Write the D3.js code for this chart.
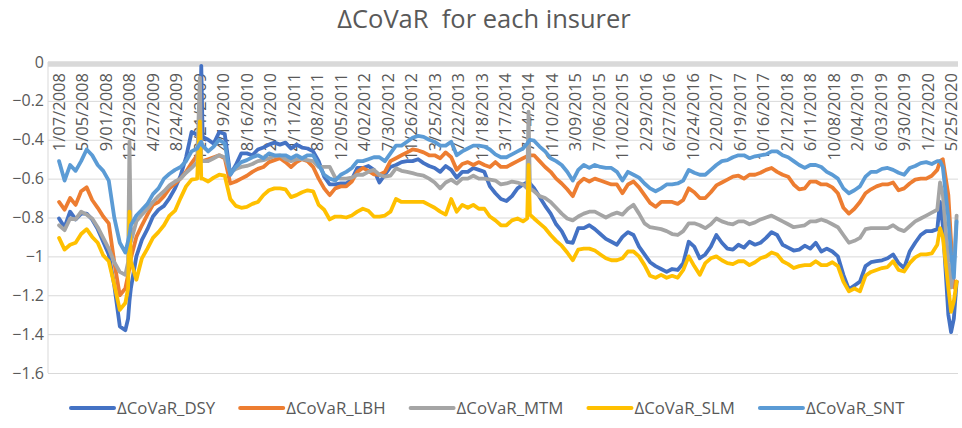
<!DOCTYPE html>
<html>
<head>
<meta charset="utf-8">
<script src="https://cdn.jsdelivr.net/npm/d3@7"></script>
<style>
  body { margin: 0; background: #fff; }
  text { font-family: "Open Sans", sans-serif; fill: #595959; }
</style>
</head>
<body>
<div id="chart"></div>
<script>
// week index counted from 1/07/2008 (weekly observations, sampled)
var weeks = [
    0, 4, 8, 12, 16, 20, 24, 28, 32, 36, 40, 44, 48,
    50, 51, 52,
    56, 60, 64, 68, 72, 76, 80, 84, 88, 92, 96, 100,
    102, 103, 104,
    108, 112, 116, 120, 124, 128, 132, 136, 140, 144, 148, 152, 156, 160,
    164, 168, 172, 176, 180, 184, 188, 192, 196, 200, 204, 208, 212, 216, 220, 224, 228, 232, 236, 240,
    244, 248, 252, 256, 260, 264, 268, 272, 276, 280, 284, 288, 292, 296, 300, 304, 308, 312,
    316, 320, 324, 328, 332, 336,
    339, 340, 341,
    344, 348, 352, 356, 360, 364, 368, 372, 376, 380, 384, 388, 392, 396, 400,
    404, 408, 412, 416, 420, 424, 428, 432, 436, 440, 444, 448, 452, 456, 460, 464, 468, 472, 476,
    480, 484, 488, 492, 496, 500, 504, 508, 512, 516, 520, 524, 528, 532, 536, 540, 544, 548, 552,
    556, 560, 564, 568, 572, 576, 580, 584, 588, 592, 596, 600, 604, 608, 612, 616, 620, 624, 628, 632, 636,
    638, 640, 644, 646, 648, 650
];

var tickLabels = ["1/07/2008", "5/05/2008", "9/01/2008", "12/29/2008", "4/27/2009", "8/24/2009",
    "12/21/2009", "4/19/2010", "8/16/2010", "12/13/2010", "4/11/2011", "8/08/2011", "12/05/2011",
    "4/02/2012", "7/30/2012", "11/26/2012", "3/25/2013", "7/22/2013", "11/18/2013", "3/17/2014",
    "7/14/2014", "11/10/2014", "3/09/2015", "7/06/2015", "11/02/2015", "2/29/2016", "6/27/2016",
    "10/24/2016", "2/20/2017", "6/19/2017", "10/16/2017", "2/12/2018", "6/11/2018", "10/08/2018",
    "2/04/2019", "6/03/2019", "9/30/2019", "1/27/2020", "5/25/2020"];
var tickStep = 17; // one label every 17 weeks

var yTicks = [0, -0.2, -0.4, -0.6, -0.8, -1, -1.2, -1.4, -1.6];

var dsy = [
    -0.805, -0.85, -0.77, -0.81, -0.78, -0.78, -0.81, -0.86, -0.925, -0.99, -1.15, -1.36, -1.38,
    -1.32, -1.23, -1.165,
    -1.0, -0.915, -0.86, -0.795, -0.76, -0.74, -0.7, -0.65, -0.585, -0.49, -0.36, -0.375,
    -0.385, -0.02, -0.385,
    -0.4, -0.42, -0.36, -0.37, -0.58, -0.53, -0.47, -0.47, -0.48, -0.45, -0.44, -0.425, -0.415, -0.425,
    -0.415, -0.445, -0.425, -0.44, -0.445, -0.46, -0.51, -0.59, -0.63, -0.63, -0.625, -0.625, -0.605, -0.545, -0.545, -0.535, -0.555, -0.62, -0.58, -0.54,
    -0.53, -0.515, -0.51, -0.51, -0.5, -0.52, -0.535, -0.545, -0.565, -0.535, -0.555, -0.595, -0.565, -0.565, -0.545, -0.555, -0.565, -0.64,
    -0.675, -0.705, -0.715, -0.69, -0.65, -0.63,
    -0.62, -0.615, -0.625,
    -0.65, -0.695, -0.74, -0.78, -0.835, -0.87, -0.925, -0.93, -0.855, -0.855, -0.84, -0.86, -0.885, -0.91, -0.925,
    -0.94, -0.9, -0.875, -0.89, -0.95, -0.99, -1.03, -1.05, -1.065, -1.08, -1.065, -1.07, -1.035, -0.925, -0.95, -1.01, -0.99, -0.95, -0.89,
    -0.93, -0.96, -0.965, -0.94, -0.955, -0.925, -0.94, -0.93, -0.905, -0.875, -0.89, -0.94, -0.955, -0.97, -0.965, -0.945, -0.96, -0.93, -0.975,
    -0.96, -0.975, -1.0, -1.095, -1.17, -1.15, -1.13, -1.05, -1.03, -1.025, -1.02, -1.01, -0.99, -1.035, -1.06, -0.975, -0.93, -0.89, -0.87, -0.87, -0.86,
    -0.72, -0.84, -1.3, -1.39, -1.32, -1.13
];

var lbh = [
    -0.72, -0.76, -0.70, -0.735, -0.665, -0.645, -0.71, -0.75, -0.795, -0.83, -1.03, -1.2, -1.165,
    -1.095, -1.06, -1.01,
    -0.9, -0.84, -0.785, -0.735, -0.72, -0.69, -0.65, -0.625, -0.6, -0.565, -0.52, -0.48,
    -0.495, -0.505, -0.51,
    -0.5, -0.49, -0.48, -0.495, -0.625, -0.615, -0.6, -0.585, -0.565, -0.55, -0.54, -0.515, -0.505, -0.495,
    -0.515, -0.54, -0.515, -0.5, -0.51, -0.54, -0.6, -0.65, -0.685, -0.65, -0.64, -0.64, -0.615, -0.565, -0.545, -0.56, -0.578, -0.58, -0.565, -0.51,
    -0.495, -0.48, -0.465, -0.45, -0.455, -0.465, -0.48, -0.48, -0.495, -0.465, -0.49, -0.555, -0.525, -0.515, -0.53, -0.515, -0.53, -0.54,
    -0.515, -0.54, -0.54, -0.525, -0.51, -0.495,
    -0.485, -0.48, -0.48,
    -0.48, -0.51, -0.54, -0.565, -0.6, -0.625, -0.655, -0.69, -0.625, -0.6, -0.615, -0.6, -0.61, -0.62, -0.63,
    -0.63, -0.675, -0.63, -0.615, -0.645, -0.685, -0.725, -0.745, -0.72, -0.72, -0.72, -0.73, -0.71, -0.65, -0.67, -0.7, -0.7, -0.67, -0.635,
    -0.62, -0.605, -0.59, -0.585, -0.6, -0.58, -0.58, -0.57, -0.555, -0.545, -0.565, -0.58, -0.59, -0.63, -0.655, -0.65, -0.615, -0.615, -0.63,
    -0.63, -0.645, -0.675, -0.75, -0.78, -0.755, -0.72, -0.675, -0.655, -0.64, -0.63, -0.63, -0.62, -0.66, -0.65, -0.625, -0.605, -0.6, -0.6, -0.585, -0.555,
    -0.51, -0.5, -0.685, -0.925, -1.16, -1.13
];

var mtm = [
    -0.84, -0.865, -0.805, -0.81, -0.77, -0.785, -0.805, -0.85, -0.905, -0.96, -1.03, -1.08, -1.095,
    -1.03, -0.41, -0.925,
    -0.82, -0.785, -0.755, -0.72, -0.69, -0.665, -0.635, -0.615, -0.6, -0.57, -0.545, -0.515,
    -0.08, -0.505, -0.51,
    -0.51, -0.495, -0.48, -0.49, -0.57, -0.55, -0.54, -0.535, -0.525, -0.51, -0.505, -0.495, -0.485, -0.48,
    -0.5, -0.51, -0.5, -0.5, -0.505, -0.51, -0.54, -0.54, -0.54, -0.595, -0.6, -0.6, -0.595, -0.58, -0.58, -0.565, -0.555, -0.58, -0.59, -0.585,
    -0.547, -0.56, -0.565, -0.572, -0.58, -0.585, -0.6, -0.62, -0.65, -0.62, -0.605, -0.625, -0.6, -0.6, -0.585, -0.6, -0.6, -0.605,
    -0.61, -0.63, -0.625, -0.615, -0.62, -0.63,
    -0.65, -0.255, -0.65,
    -0.665, -0.69, -0.7, -0.72, -0.75, -0.78, -0.805, -0.815, -0.795, -0.78, -0.77, -0.77, -0.785, -0.8, -0.785,
    -0.775, -0.785, -0.755, -0.735, -0.78, -0.83, -0.85, -0.855, -0.86, -0.87, -0.885, -0.89, -0.87, -0.83, -0.83, -0.84, -0.855, -0.835, -0.805,
    -0.82, -0.83, -0.835, -0.82, -0.82, -0.835, -0.825, -0.81, -0.8, -0.79, -0.805, -0.82, -0.835, -0.85, -0.845, -0.84, -0.82, -0.82, -0.81,
    -0.82, -0.835, -0.85, -0.89, -0.93, -0.92, -0.905, -0.86, -0.855, -0.855, -0.855, -0.855, -0.84, -0.86, -0.87, -0.845, -0.82, -0.805, -0.79, -0.775, -0.76,
    -0.62, -0.68, -1.03, -1.16, -1.06, -0.79
];

var slm = [
    -0.905, -0.965, -0.94, -0.93, -0.885, -0.86, -0.9, -0.93, -0.995, -1.025, -1.145, -1.275, -1.24,
    -1.165, -0.77, -1.025,
    -1.12, -1.01, -0.96, -0.905, -0.875, -0.84, -0.79, -0.765, -0.7, -0.64, -0.605, -0.6,
    -0.305, -0.6, -0.6,
    -0.615, -0.595, -0.58, -0.585, -0.705, -0.74, -0.75, -0.745, -0.73, -0.72, -0.685, -0.66, -0.65, -0.65,
    -0.655, -0.695, -0.685, -0.67, -0.66, -0.665, -0.735, -0.76, -0.81, -0.795, -0.795, -0.8, -0.79, -0.77, -0.755, -0.765, -0.795, -0.795, -0.79, -0.77,
    -0.705, -0.72, -0.72, -0.72, -0.72, -0.72, -0.735, -0.75, -0.77, -0.785, -0.705, -0.77, -0.735, -0.75, -0.735, -0.755, -0.755, -0.795,
    -0.815, -0.84, -0.84, -0.815, -0.805, -0.82,
    -0.805, -0.53, -0.785,
    -0.805, -0.83, -0.855, -0.89, -0.92, -0.945, -0.98, -1.02, -0.965, -0.96, -0.96, -0.97, -0.99, -1.01, -1.02,
    -1.02, -1.01, -0.975, -0.975, -1.0, -1.045, -1.1, -1.11, -1.095, -1.11, -1.1, -1.11, -1.07, -1.0, -1.05, -1.095, -1.035, -1.01, -1.0,
    -1.02, -1.035, -1.04, -1.025, -1.025, -1.045, -1.03, -1.01, -1.0, -0.98, -0.99, -1.025, -1.04, -1.06, -1.05, -1.045, -1.045, -1.025, -1.045,
    -1.045, -1.03, -1.05, -1.13, -1.18, -1.165, -1.18, -1.1, -1.08, -1.07, -1.06, -1.055, -1.025, -1.07, -1.078, -1.035, -1.005, -0.99, -0.99, -0.985, -0.94,
    -0.855, -0.9, -1.16, -1.285, -1.23, -1.13
];

var snt = [
    -0.51, -0.61, -0.53, -0.56, -0.51, -0.45, -0.48, -0.53, -0.56, -0.61, -0.8, -0.93, -0.98,
    -0.92, -0.89, -0.84,
    -0.79, -0.76, -0.73, -0.68, -0.65, -0.6, -0.575, -0.555, -0.54, -0.51, -0.46, -0.445,
    -0.42, -0.41, -0.43,
    -0.46, -0.435, -0.4, -0.42, -0.58, -0.54, -0.515, -0.505, -0.49, -0.48, -0.495, -0.47, -0.48, -0.48,
    -0.48, -0.495, -0.48, -0.495, -0.48, -0.48, -0.53, -0.58, -0.6, -0.61, -0.58, -0.565, -0.545, -0.51, -0.51, -0.5, -0.49, -0.49, -0.51, -0.47,
    -0.43, -0.43, -0.41, -0.39, -0.38, -0.385, -0.4, -0.41, -0.43, -0.43, -0.41, -0.48, -0.46, -0.445, -0.43, -0.43, -0.435, -0.45,
    -0.475, -0.49, -0.49, -0.475, -0.46, -0.445,
    -0.42, -0.41, -0.40,
    -0.405, -0.435, -0.46, -0.495, -0.51, -0.53, -0.565, -0.61, -0.555, -0.53, -0.545, -0.53, -0.54, -0.545, -0.545,
    -0.565, -0.61, -0.565, -0.58, -0.595, -0.625, -0.65, -0.665, -0.65, -0.63, -0.63, -0.625, -0.61, -0.555, -0.57, -0.58, -0.58, -0.555, -0.53,
    -0.51, -0.505, -0.49, -0.48, -0.48, -0.495, -0.485, -0.48, -0.475, -0.46, -0.46, -0.48, -0.49, -0.51, -0.53, -0.545, -0.53, -0.53, -0.54,
    -0.565, -0.58, -0.6, -0.65, -0.675, -0.66, -0.64, -0.59, -0.565, -0.565, -0.55, -0.545, -0.555, -0.57, -0.58, -0.545, -0.535, -0.52, -0.515, -0.525, -0.51,
    -0.51, -0.54, -0.8, -0.99, -1.11, -0.82
];

var seriesNames = ["\u0394CoVaR_DSY", "\u0394CoVaR_LBH", "\u0394CoVaR_MTM", "\u0394CoVaR_SLM", "\u0394CoVaR_SNT"];
var seriesValues = [dsy, lbh, mtm, slm, snt];
var colors = ["#4472C4", "#ED7D31", "#A5A5A5", "#FFC000", "#5B9BD5"];

var width = 962,
    height = 428;

var svg = d3.select('#chart')
    .append('svg')
    .attr('width', width)
    .attr('height', height);

var x = d3.scaleLinear().domain([-8, 651]).range([48, 958]);
var y = d3.scaleLinear().domain([-1.6, 0]).range([373, 62]);

/* title */
svg.append('text')
    .attr('x', 484)
    .attr('y', 28)
    .attr('text-anchor', 'middle')
    .style('font-size', '25.5px')
    .style('white-space', 'pre')
    .text('\u0394CoVaR  for each insurer');

/* gridlines */
svg.append('g')
    .attr('transform', 'translate(48,0)')
    .call(d3.axisLeft(y)
        .tickValues(yTicks.slice(1))
        .tickSize(-910)
        .tickFormat(''))
    .call(function(g) {
        g.select('.domain').remove();
        g.selectAll('line').attr('stroke', '#d9d9d9');
    });

svg.append('line')
    .attr('x1', 48).attr('x2', 48)
    .attr('y1', y(0)).attr('y2', y(-1.6))
    .attr('stroke', '#d9d9d9');

/* y labels */
svg.append('g')
    .selectAll('text')
    .data(yTicks)
    .enter().append('text')
    .attr('x', 44)
    .attr('y', function(d) { return y(d); })
    .attr('dy', '0.35em')
    .attr('text-anchor', 'end')
    .style('font-size', '16px')
    .text(function(d) { return d3.format('~g')(d); });

/* horizontal axis at zero */
svg.append('line')
    .attr('x1', 48).attr('x2', 958)
    .attr('y1', y(0) + 2).attr('y2', y(0) + 2)
    .attr('stroke', '#d9d9d9')
    .attr('stroke-width', 5.5);

svg.append('g')
    .selectAll('text')
    .data(tickLabels)
    .enter().append('text')
    .attr('transform', function(d, i) {
        return 'translate(' + x(i * tickStep) + ',73) rotate(-90)';
    })
    .attr('dy', '0.36em')
    .attr('text-anchor', 'end')
    .style('font-size', '16.5px')
    .text(function(d) { return d; });

/* series */
var line = d3.line()
    .x(function(d) { return x(d[0]); })
    .y(function(d) { return y(d[1]); });

seriesValues.forEach(function(vals, i) {
    svg.append('path')
        .datum(weeks.map(function(w, j) { return [w, vals[j]]; }))
        .attr('d', line)
        .attr('fill', 'none')
        .attr('stroke', colors[i])
        .attr('stroke-width', 3.8)
        .attr('stroke-linejoin', 'round')
        .attr('stroke-linecap', 'round');
});

/* legend */
var legend = svg.append('g');
var lx = 71;
seriesNames.forEach(function(name, i) {
    legend.append('line')
        .attr('x1', lx).attr('x2', lx + 43)
        .attr('y1', 408).attr('y2', 408)
        .attr('stroke', colors[i])
        .attr('stroke-width', 4)
        .attr('stroke-linecap', 'round');
    var t = legend.append('text')
        .attr('x', lx + 46)
        .attr('y', 408)
        .attr('dy', '0.35em')
        .style('font-size', '16.8px')
        .text(name);
    lx += 46 + t.node().getComputedTextLength() + 25;
});
</script>
</body>
</html>
